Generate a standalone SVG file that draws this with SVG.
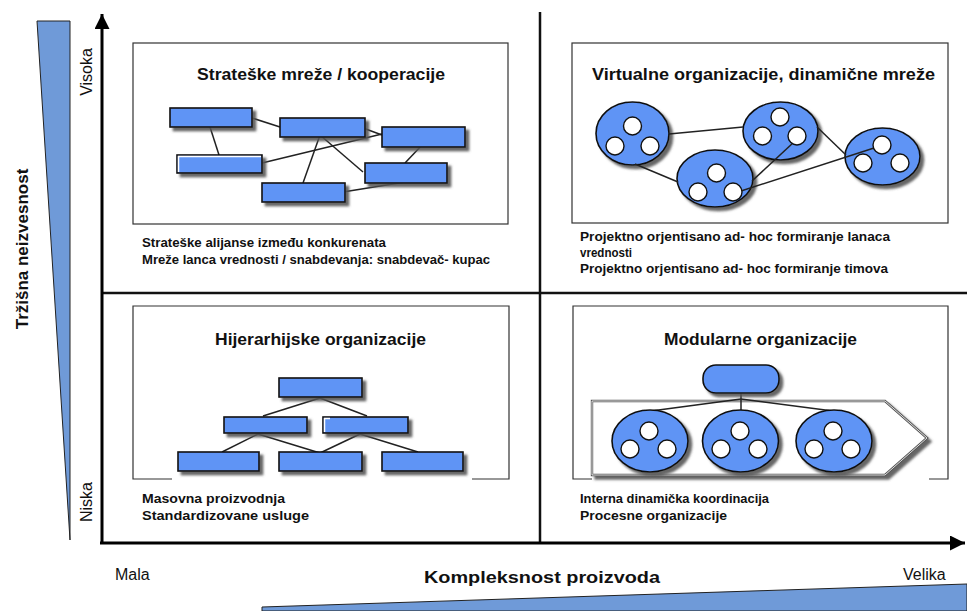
<svg xmlns="http://www.w3.org/2000/svg" width="967" height="611" viewBox="0 0 967 611">
  <style>
    text { font-family: "Liberation Sans", Arial, sans-serif; fill: #111; }
    .title { font-size: 17px; font-weight: bold; }
    .desc { font-size: 12px; font-weight: bold; }
    .axis { font-size: 17px; font-weight: bold; }
    .tick { font-size: 16px; }
    .frame { fill: none; stroke: #333; stroke-width: 1.2; }
    .box { fill: #5f94f5; stroke: #111; stroke-width: 1.6; }
    .oval { fill: #5f94f5; stroke: #111; stroke-width: 1.6; }
    .dot { fill: #fff; stroke: #111; stroke-width: 1.4; }
    .link { stroke: #222; stroke-width: 1.5; fill: none; }
    .axisline { stroke: #000; stroke-width: 3; fill: none; }
    .grid { stroke: #111; stroke-width: 2.5; fill: none; }
    .wedge { fill: #6f9ad8; stroke: #222; stroke-width: 1; }
  </style>
  <defs>
    <filter id="shadow" x="-20%" y="-20%" width="150%" height="160%">
      <feDropShadow dx="3.5" dy="3.5" stdDeviation="1.3" flood-color="#555" flood-opacity="0.9"/>
    </filter>
    <marker id="arrow" viewBox="0 0 10 10" refX="10" refY="5" markerWidth="5" markerHeight="5" markerUnits="strokeWidth" orient="auto">
      <path d="M0,0 L10,5 L0,10 Z" fill="#000"/>
    </marker>
  </defs>

  <!-- scale wedges -->
  <polygon class="wedge" points="37,21 70,21 70,540"/>
  <polygon class="wedge" points="262,607 967,584 967,611 262,611"/>

  <!-- axes and quadrant dividers -->
  <g id="axes">
    <line class="grid" x1="102" y1="293" x2="967" y2="293"/>
    <line class="grid" x1="540" y1="12" x2="540" y2="543"/>
    <line class="axisline" x1="102" y1="543" x2="102" y2="14" marker-end="url(#arrow)"/>
    <line class="axisline" x1="100" y1="543" x2="965" y2="543" marker-end="url(#arrow)"/>
  </g>

  <!-- axis labels -->
  <text class="axis" transform="translate(28,249) rotate(-90)" text-anchor="middle">Tržišna neizvesnost</text>
  <text class="tick" transform="translate(92,72) rotate(-90)" text-anchor="middle">Visoka</text>
  <text class="tick" transform="translate(92,502) rotate(-90)" text-anchor="middle">Niska</text>
  <text class="tick" x="115" y="580">Mala</text>
  <text class="axis" x="424" y="583" textLength="236" lengthAdjust="spacingAndGlyphs">Kompleksnost proizvoda</text>
  <text class="tick" x="903" y="580">Velika</text>

  <!-- quadrant: strategic networks -->
  <g id="q-strategic">
    <rect class="frame" x="133" y="43" width="375" height="181"/>
    <text class="title" x="197" y="80" textLength="248" lengthAdjust="spacingAndGlyphs">Strateške mreže / kooperacije</text>
    <g class="links">
      <line class="link" x1="210" y1="127" x2="219" y2="155"/>
      <line class="link" x1="252" y1="118" x2="280" y2="127"/>
      <line class="link" x1="363" y1="128" x2="382" y2="135"/>
      <line class="link" x1="262" y1="163" x2="382" y2="134"/>
      <line class="link" x1="320" y1="135" x2="303" y2="183"/>
      <line class="link" x1="320" y1="135" x2="363" y2="172"/>
      <line class="link" x1="423" y1="144" x2="405" y2="163"/>
      <line class="link" x1="405" y1="182" x2="343" y2="192"/>
    </g>
    <g filter="url(#shadow)">
      <rect class="box" x="170" y="108" width="82" height="19"/>
      <rect class="box" x="280" y="118" width="85" height="19"/>
      <rect class="box" x="382" y="127" width="83" height="20"/>
      <rect class="box" x="177" y="155" width="85" height="18"/>
      <rect class="box" x="365" y="163" width="82" height="20"/>
      <rect class="box" x="262" y="183" width="83" height="19"/>
    </g>
    <polyline points="178.5,172 178.5,156.5 261,156.5" fill="none" stroke="#fff" stroke-width="1.5"/>
    <text class="desc" x="142" y="247" textLength="244" lengthAdjust="spacingAndGlyphs">Strateške alijanse između konkurenata</text>
    <text class="desc" x="142" y="264" textLength="348" lengthAdjust="spacingAndGlyphs">Mreže lanca vrednosti / snabdevanja: snabdevač- kupac</text>
  </g>

  <!-- quadrant: virtual organisations -->
  <g id="q-virtual">
    <rect class="frame" x="572" y="43" width="376" height="180"/>
    <text class="title" x="592" y="80" textLength="343" lengthAdjust="spacingAndGlyphs">Virtualne organizacije, dinamične mreže</text>
    <g filter="url(#shadow)">
      <ellipse class="oval" cx="632.5" cy="133.5" rx="36.5" ry="31.5"/>
      <ellipse class="oval" cx="780.5" cy="131" rx="37.5" ry="29"/>
      <ellipse class="oval" cx="715" cy="178.5" rx="38" ry="28.5"/>
      <ellipse class="oval" cx="882.5" cy="156.5" rx="37.5" ry="28.5"/>
    </g>
    <g class="links">
      <line class="link" x1="669" y1="134" x2="743" y2="127"/>
      <line class="link" x1="635" y1="164" x2="678" y2="182"/>
      <line class="link" x1="817" y1="127" x2="846" y2="155"/>
      <line class="link" x1="752" y1="181" x2="794" y2="142"/>
      <line class="link" x1="741" y1="191" x2="874" y2="148"/>
    </g>
    <circle class="dot" cx="632.5" cy="126" r="9"/>
    <circle class="dot" cx="615" cy="146" r="9"/>
    <circle class="dot" cx="650" cy="146" r="9"/>
    <circle class="dot" cx="780" cy="117" r="9"/>
    <circle class="dot" cx="762.5" cy="136" r="9"/>
    <circle class="dot" cx="797" cy="136" r="9"/>
    <circle class="dot" cx="716.5" cy="173" r="9"/>
    <circle class="dot" cx="698" cy="192" r="9"/>
    <circle class="dot" cx="733" cy="192" r="9"/>
    <circle class="dot" cx="882" cy="145" r="9"/>
    <circle class="dot" cx="863" cy="163" r="9"/>
    <circle class="dot" cx="900" cy="163" r="9"/>
    <text class="desc" x="580" y="241" textLength="310" lengthAdjust="spacingAndGlyphs">Projektno orjentisano ad- hoc formiranje lanaca</text>
    <text class="desc" x="580" y="257" textLength="52" lengthAdjust="spacingAndGlyphs">vrednosti</text>
    <text class="desc" x="580" y="273" textLength="308" lengthAdjust="spacingAndGlyphs">Projektno orjentisano ad- hoc formiranje timova</text>
  </g>

  <!-- quadrant: hierarchical organisations -->
  <g id="q-hierarchy">
    <path class="frame" d="M172,479 H133 V306 H509 V479 H472"/>
    <text class="title" x="215" y="345" textLength="211" lengthAdjust="spacingAndGlyphs">Hijerarhijske organizacije</text>
    <g class="links">
      <line class="link" x1="320" y1="398" x2="263" y2="416"/>
      <line class="link" x1="320" y1="398" x2="367" y2="416"/>
      <line class="link" x1="258" y1="434" x2="222" y2="452"/>
      <line class="link" x1="258" y1="434" x2="320" y2="453"/>
      <line class="link" x1="360" y1="434" x2="320" y2="453"/>
      <line class="link" x1="360" y1="434" x2="418" y2="452"/>
    </g>
    <g filter="url(#shadow)">
      <rect class="box" x="279" y="378" width="83" height="19"/>
      <rect class="box" x="224" y="417" width="83" height="16"/>
      <rect class="box" x="323" y="417" width="85" height="16"/>
      <rect class="box" x="178" y="452" width="81" height="19"/>
      <rect class="box" x="279" y="452" width="83" height="19"/>
      <rect class="box" x="382" y="452" width="81" height="19"/>
    </g>
    <polyline points="324.5,432 324.5,418.5 330,418.5" fill="none" stroke="#fff" stroke-width="1.5"/>
    <text class="desc" x="142" y="503" textLength="143" lengthAdjust="spacingAndGlyphs">Masovna proizvodnja</text>
    <text class="desc" x="142" y="520" textLength="167" lengthAdjust="spacingAndGlyphs">Standardizovane usluge</text>
  </g>

  <!-- quadrant: modular organisations -->
  <g id="q-modular">
    <path class="frame" d="M592,479 H573 V306 H948 V479 H929"/>
    <text class="title" x="664" y="345" textLength="193" lengthAdjust="spacingAndGlyphs">Modularne organizacije</text>
    <polygon points="592,401 885,401 927,438 885,475 592,475" fill="#fff" stroke="#555" stroke-width="2.4" filter="url(#shadow)"/>
    <polygon points="592,401 885,401 927,438 885,475 592,475" fill="none" stroke="#fff" stroke-width="0.8"/>
    <g class="links">
      <line class="link" x1="741" y1="393" x2="741" y2="411"/>
      <line class="link" x1="741" y1="399" x2="651" y2="411"/>
      <line class="link" x1="741" y1="399" x2="833" y2="411"/>
    </g>
    <g filter="url(#shadow)">
      <rect class="box" x="703" y="365" width="76" height="28" rx="13"/>
      <ellipse class="oval" cx="650" cy="441" rx="38" ry="31"/>
      <ellipse class="oval" cx="740.5" cy="441" rx="38" ry="31"/>
      <ellipse class="oval" cx="834" cy="441" rx="38" ry="31"/>
    </g>
    <circle class="dot" cx="649" cy="431" r="9"/>
    <circle class="dot" cx="630" cy="449" r="9"/>
    <circle class="dot" cx="667" cy="449" r="9"/>
    <circle class="dot" cx="740" cy="431" r="9"/>
    <circle class="dot" cx="721" cy="449" r="9"/>
    <circle class="dot" cx="758" cy="449" r="9"/>
    <circle class="dot" cx="833" cy="431" r="9"/>
    <circle class="dot" cx="814" cy="449" r="9"/>
    <circle class="dot" cx="851" cy="449" r="9"/>
    <text class="desc" x="580" y="503" textLength="189" lengthAdjust="spacingAndGlyphs">Interna dinamička koordinacija</text>
    <text class="desc" x="580" y="520" textLength="147" lengthAdjust="spacingAndGlyphs">Procesne organizacije</text>
  </g>
</svg>
